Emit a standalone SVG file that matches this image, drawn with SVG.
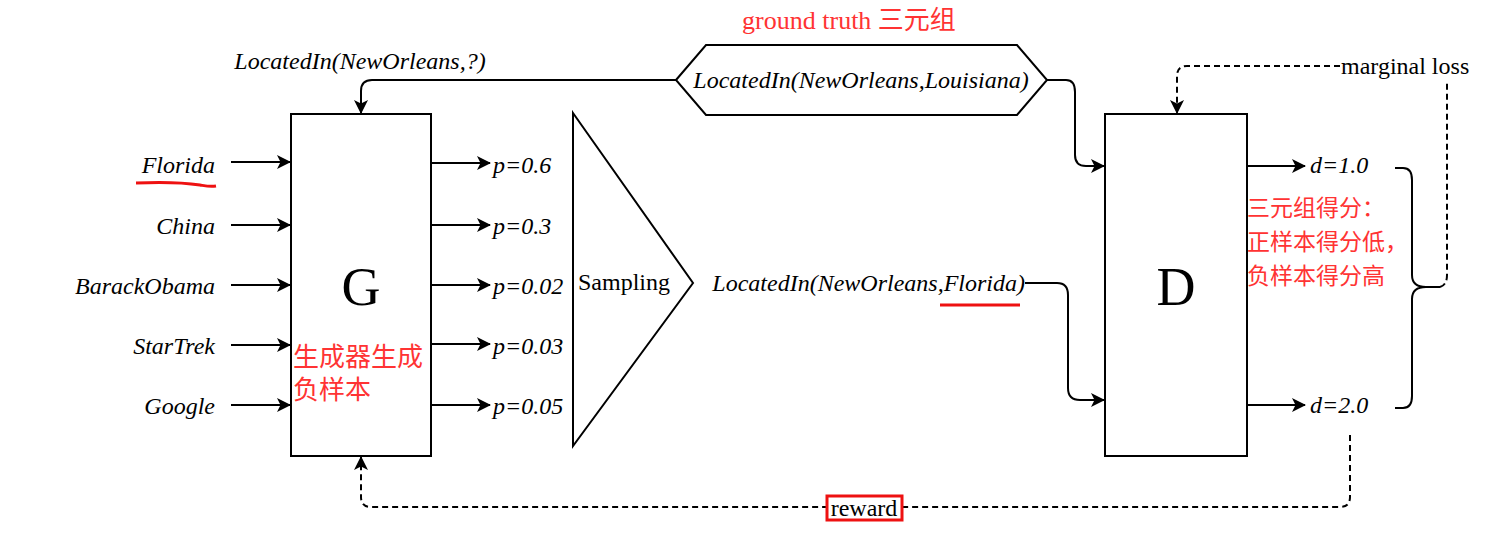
<svg xmlns="http://www.w3.org/2000/svg" width="1511" height="535" viewBox="0 0 1511 535">
<style>
.lbl{font-family:"Liberation Serif","Times New Roman",serif;font-size:24px;fill:#000}
.it{font-style:italic}
.red{font-family:"Liberation Serif","Noto Sans CJK SC",serif;font-size:23px;fill:#ff3333}
.big{font-family:"Liberation Serif",serif;font-size:54px;fill:#000;text-anchor:middle}
.box{fill:#fff;stroke:#000;stroke-width:2}
.ln{fill:none;stroke:#000;stroke-width:2}
.dash{fill:none;stroke:#000;stroke-width:2;stroke-dasharray:6 4}
.ul{fill:none;stroke:#ee1111;stroke-width:3}
</style>
<defs>
<marker id="arr" viewBox="0 0 14 14" refX="13" refY="7" markerWidth="14" markerHeight="14" markerUnits="userSpaceOnUse" orient="auto">
<path d="M0,0 L14,7 L0,14 L3.5,7 Z" fill="#000"/>
</marker>
</defs>
<rect width="1511" height="535" fill="#fff"/>

<g id="connectors">
<path class="ln" d="M231,162 H290" marker-end="url(#arr)"/>
<path class="ln" d="M231,225 H290" marker-end="url(#arr)"/>
<path class="ln" d="M231,285 H290" marker-end="url(#arr)"/>
<path class="ln" d="M231,345 H290" marker-end="url(#arr)"/>
<path class="ln" d="M231,405 H290" marker-end="url(#arr)"/>
<path class="ln" d="M432,163 H490" marker-end="url(#arr)"/>
<path class="ln" d="M432,225 H490" marker-end="url(#arr)"/>
<path class="ln" d="M432,285 H490" marker-end="url(#arr)"/>
<path class="ln" d="M432,344 H490" marker-end="url(#arr)"/>
<path class="ln" d="M432,405 H490" marker-end="url(#arr)"/>
<path class="ln" d="M676,80 H372 Q361,80 361,91 V113" marker-end="url(#arr)"/>
<path class="ln" d="M1047,80 H1066 Q1075,80 1075,92 V155 Q1075,166 1086,166 H1104" marker-end="url(#arr)"/>
<path class="ln" d="M1025,283 H1057 Q1068,283 1068,295 V388 Q1068,400 1080,400 H1104" marker-end="url(#arr)"/>
<path class="ln" d="M1248,166 H1305" marker-end="url(#arr)"/>
<path class="ln" d="M1248,405 H1305" marker-end="url(#arr)"/>
<path class="ln" d="M1395,168 H1403 Q1412,168 1412,180 V275 Q1412,287 1426,287 H1440 M1426,287 Q1412,287 1412,299 V396 Q1412,408 1403,408 H1395"/>
<path class="dash" d="M1440,287 Q1447,285 1447,275 V80"/>
<path class="dash" d="M1340,66 H1187 Q1177,66 1177,76 V113" marker-end="url(#arr)"/>
<path class="dash" d="M1350,435 V497 Q1350,507 1340,507 H371 Q361,507 361,497 V457" marker-end="url(#arr)"/>
</g>

<g id="G">
<rect class="box" x="291" y="114" width="140" height="342"/>
<text class="big" x="361" y="305">G</text>
<text class="red" x="293" y="366" style="font-size:26px">生成器生成</text>
<text class="red" x="293" y="399" style="font-size:26px">负样本</text>
</g>

<g id="inputs">
<text class="lbl it" x="215" y="173" text-anchor="end">Florida</text>
<path class="ul" d="M136,183 C160,182 180,182 200,185 C206,186 210,187 216,186"/>
<text class="lbl it" x="215" y="234" text-anchor="end">China</text>
<text class="lbl it" x="215" y="294" text-anchor="end">BarackObama</text>
<text class="lbl it" x="215" y="354" text-anchor="end">StarTrek</text>
<text class="lbl it" x="215" y="414" text-anchor="end">Google</text>
</g>

<g id="probs">
<text class="lbl it" x="493" y="173">p=0.6</text>
<text class="lbl it" x="493" y="234">p=0.3</text>
<text class="lbl it" x="493" y="294">p=0.02</text>
<text class="lbl it" x="493" y="354">p=0.03</text>
<text class="lbl it" x="493" y="414">p=0.05</text>
</g>

<g id="sampling">
<polygon class="box" points="573,113 693,283 573,446"/>
<text class="lbl" x="578" y="290">Sampling</text>
</g>

<g id="groundtruth">
<polygon class="box" points="676,80 706,45 1017,45 1047,80 1017,115 706,115"/>
<text class="lbl it" x="861" y="88" text-anchor="middle">LocatedIn(NewOrleans,Louisiana)</text>
<text class="red" x="849" y="29" text-anchor="middle" style="font-size:26px">ground truth 三元组</text>
</g>

<text class="lbl it" x="360" y="69" text-anchor="middle">LocatedIn(NewOrleans,?)</text>

<g id="negsample">
<text class="lbl it" x="1025" y="291" text-anchor="end">LocatedIn(NewOrleans,Florida)</text>
<path class="ul" d="M940,305 H1020"/>
</g>

<g id="D">
<rect class="box" x="1105" y="114" width="142" height="342"/>
<text class="big" x="1176" y="305">D</text>
</g>

<g id="scores">
<text class="lbl it" x="1310" y="173">d=1.0</text>
<text class="lbl it" x="1310" y="413">d=2.0</text>
<text class="red" x="1247" y="216">三元组得分：</text>
<text class="red" x="1247" y="250">正样本得分低，</text>
<text class="red" x="1247" y="284">负样本得分高</text>
</g>

<g id="marginal">
<rect x="1340" y="55" width="132" height="24" fill="#fff"/>
<text class="lbl" x="1341" y="74">marginal loss</text>
</g>

<g id="reward">
<rect x="827" y="496" width="75" height="24" fill="#fff" stroke="#ee1111" stroke-width="3"/>
<text class="lbl" x="864" y="516" text-anchor="middle">reward</text>
</g>
</svg>
